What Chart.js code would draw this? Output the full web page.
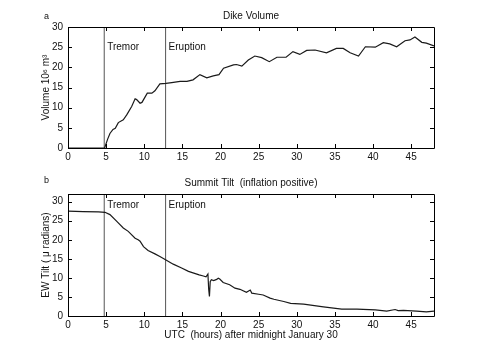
<!DOCTYPE html>
<html>
<head>
<meta charset="utf-8">
<script src="https://cdn.jsdelivr.net/npm/chart.js@4.4.1/dist/chart.umd.min.js"></script>
<style>
  html, body { margin: 0; padding: 0; background: #fff; }
  #wrap { position: relative; width: 500px; height: 363px; }
  canvas { position: absolute; left: 0; }
</style>
</head>
<body>
<div id="wrap">
  <canvas id="top" width="500" height="165" style="top:0"></canvas>
  <canvas id="bot" width="500" height="198" style="top:165px"></canvas>
</div>
<script>
// ---- data ----
const volHours = [0, 4.8, 4.85, 5.2, 5.5, 5.9, 6.2, 6.6, 7.25, 7.7, 8.35, 8.8, 9.0, 9.45, 9.7, 10.4, 11.0, 11.4, 12.05, 12.85, 13.6, 14.7, 15.6, 16.4, 17.3, 18.2, 19.05, 19.8, 20.4, 21.7, 22.1, 22.8, 23.65, 24.5, 25.4, 26.4, 27.4, 28.6, 29.5, 30.4, 31.3, 32.4, 33.9, 35.2, 36.1, 37.0, 38.1, 39.0, 40.3, 41.35, 42.2, 43.1, 44.2, 44.85, 45.5, 46.4, 47.0, 48];
const volume   = [0, 0, 0, 2.2, 3.6, 4.6, 4.9, 6.3, 7.0, 8.2, 10.3, 12.2, 12.0, 11.1, 11.3, 13.6, 13.6, 14.2, 15.9, 16.0, 16.2, 16.5, 16.5, 16.9, 18.2, 17.4, 17.9, 18.2, 19.8, 20.6, 20.7, 20.3, 21.8, 22.8, 22.4, 21.4, 22.5, 22.5, 23.9, 23.2, 24.2, 24.3, 23.6, 24.7, 24.7, 23.6, 22.8, 25.1, 25.0, 26.1, 25.8, 25.1, 26.6, 26.8, 27.5, 26.2, 26.0, 25.3];

const tiltHours = [0, 2, 4.0, 4.85, 5.5, 6.4, 7.25, 7.9, 8.8, 9.2, 9.45, 9.9, 10.5, 11.4, 12.05, 12.85, 13.8, 14.9, 15.8, 16.4, 17.2, 17.75, 18.1, 18.35, 18.45, 18.55, 18.65, 18.8, 19.1, 19.5, 19.7, 19.9, 20.35, 21.2, 21.9, 22.55, 23.4, 23.9, 24.1, 25.0, 25.6, 26.5, 27.0, 28.3, 29.2, 30.9, 33.5, 35.9, 37.9, 40.3, 41.8, 42.9, 43.3, 44.0, 45.7, 47.0, 48];
const tilt      = [27.5, 27.4, 27.3, 27.2, 26.6, 24.8, 23.1, 22.2, 20.4, 20.0, 19.6, 18.2, 17.2, 16.3, 15.6, 14.7, 13.6, 12.6, 11.7, 11.3, 10.8, 10.5, 10.3, 11.0, 7.0, 5.1, 9.0, 9.5, 9.3, 9.6, 9.9, 9.7, 8.8, 8.2, 7.3, 7.0, 6.2, 6.8, 6.0, 5.7, 5.5, 4.7, 4.4, 3.8, 3.3, 3.1, 2.4, 1.8, 1.8, 1.6, 1.3, 1.7, 1.4, 1.5, 1.3, 1.1, 1.3];

const eventHours  = [4.75, 12.8];
const eventLabels = ['Tremor', 'Eruption'];

const xTicksStep = 5;
const FONT = '"Liberation Sans", Arial, sans-serif';

function zip(xs, ys) { return xs.map((x, i) => ({ x: x, y: ys[i] })); }

function eventDatasets(ymax) {
  return eventHours.map(h => ({
    data: [{ x: h, y: 0 }, { x: h, y: ymax }],
    borderColor: '#555', borderWidth: 1, pointRadius: 0
  }));
}

const framePlugin = {
  id: 'frame',
  afterDatasetsDraw(chart, args, opts) {
    const { ctx, chartArea: a, scales } = chart;
    const xs = scales.x, ys = scales.y;
    ctx.save();
    ctx.strokeStyle = '#000';
    ctx.lineWidth = 1;
    ctx.beginPath();
    ctx.rect(Math.round(a.left) + 0.5, Math.round(a.top) + 0.5, Math.round(a.right - a.left), Math.round(a.bottom - a.top));
    ctx.stroke();
    const L = 4;
    ctx.beginPath();
    xs.ticks.forEach(t => {
      const px = Math.round(xs.getPixelForValue(t.value)) + 0.5;
      ctx.moveTo(px, a.bottom); ctx.lineTo(px, a.bottom - L);
      ctx.moveTo(px, a.top); ctx.lineTo(px, a.top + L);
    });
    ys.ticks.forEach(t => {
      const py = Math.round(ys.getPixelForValue(t.value)) + 0.5;
      ctx.moveTo(a.left, py); ctx.lineTo(a.left + L, py);
      ctx.moveTo(a.right, py); ctx.lineTo(a.right - L, py);
    });
    ctx.stroke();
    // event labels
    ctx.fillStyle = '#111';
    ctx.font = '10px ' + FONT;
    ctx.textBaseline = 'middle';
    ctx.textAlign = 'left';
    eventHours.forEach((h, i) => {
      ctx.fillText(eventLabels[i], xs.getPixelForValue(h) + 3, ys.getPixelForValue(opts.labelY));
    });
    // panel letter
    ctx.font = '9px ' + FONT;
    ctx.fillText(opts.letter, 44, opts.letterY);
    // panel title, centred over the plot box
    ctx.font = '10px ' + FONT;
    ctx.textAlign = 'center';
    ctx.fillText(opts.title, (a.left + a.right) / 2, opts.titleY);
    ctx.restore();
  }
};

function makeChart(id, cfg) {
  return new Chart(document.getElementById(id), {
    type: 'line',
    data: { datasets: [
      { data: cfg.series, borderColor: '#1a1a1a', borderWidth: 1.2, pointRadius: 0, tension: 0 },
      ...eventDatasets(cfg.ymax)
    ]},
    options: {
      responsive: false, animation: false, devicePixelRatio: 1,
      layout: { padding: { left: 0, right: 66, top: cfg.top, bottom: 0 } },
      plugins: {
        legend: { display: false }, tooltip: { enabled: false }, title: { display: false },
        frame: { labelY: cfg.labelY, letter: cfg.letter, letterY: cfg.letterY, title: cfg.title, titleY: cfg.titleY }
      },
      scales: {
        x: {
          type: 'linear', min: 0, max: 48,
          grid: { display: false, drawTicks: false }, border: { display: false },
          ticks: { stepSize: xTicksStep, includeBounds: false, padding: 3, color: '#111', maxRotation: 0,
                   font: { family: FONT, size: 10 } },
          title: cfg.xTitle ? { display: true, text: cfg.xTitle, color: '#111',
                   font: { family: FONT, size: 10 }, padding: { top: 0, bottom: cfg.xTitlePad } } : { display: false },
          afterFit: s => { s.height = cfg.xHeight; }
        },
        y: {
          min: 0, max: cfg.ymax,
          grid: { display: false, drawTicks: false }, border: { display: false },
          ticks: { stepSize: 5, includeBounds: false, padding: 5, color: '#111',
                   font: { family: FONT, size: 10 } },
          title: { display: true, text: cfg.yTitle, color: '#111',
                   font: { family: FONT, size: 10 }, padding: { top: 40, bottom: 0 } },
          afterFit: s => { s.width = 68; }
        }
      }
    },
    plugins: [framePlugin]
  });
}

makeChart('top', {
  series: zip(volHours, volume), ymax: 30, title: 'Dike Volume', top: 27, titleY: 16,
  yTitle: 'Volume 10\u2076 m\u00b3', xHeight: 17, labelY: 25, letter: 'a', letterY: 17
});
makeChart('bot', {
  series: zip(tiltHours, tilt), ymax: 32, title: 'Summit Tilt  (inflation positive)', top: 29, titleY: 18,
  yTitle: 'EW Tilt ( \u03bc radians)', xTitle: 'UTC  (hours) after midnight January 30', xTitlePad: 22,
  xHeight: 47, labelY: 29, letter: 'b', letterY: 16
});
</script>
</body>
</html>
